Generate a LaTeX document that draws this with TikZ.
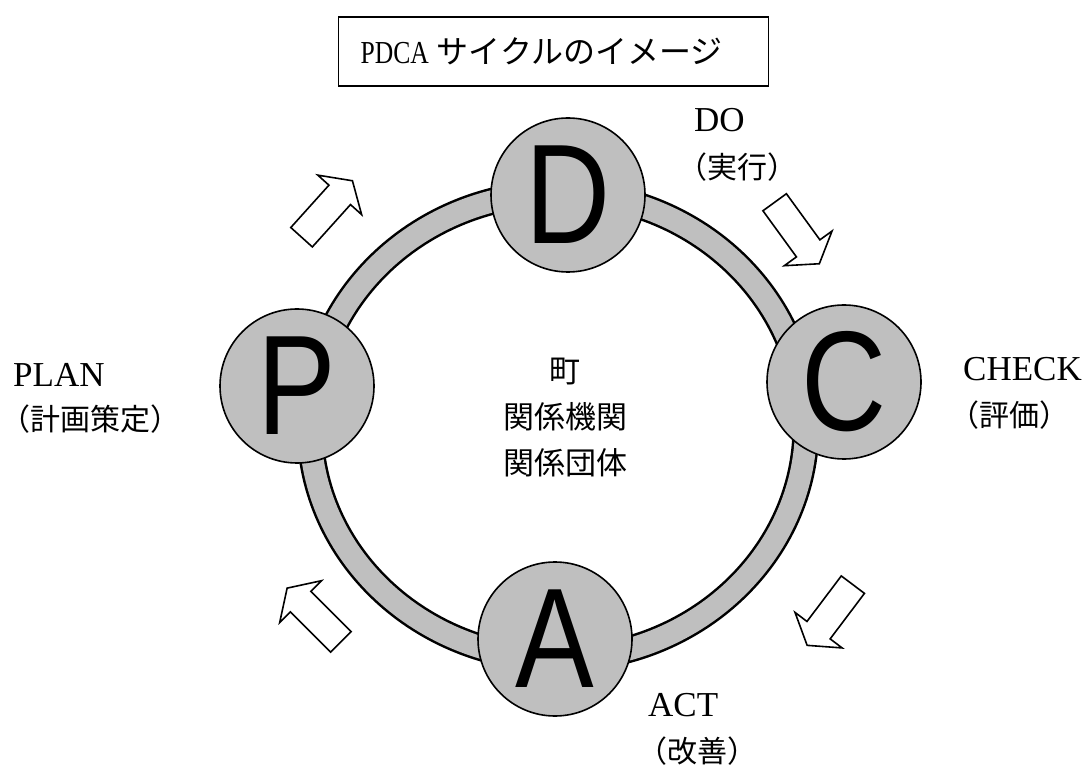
\documentclass[tikz,border=0pt]{standalone}
\usepackage{fontspec}
\setmainfont{Liberation Serif}
\newfontfamily\jpfont{Noto Sans CJK JP}
\newfontfamily\letterfont[FakeStretch=0.83]{Liberation Sans}
\newfontfamily\titlefont[FakeStretch=0.8]{Liberation Serif}
\usetikzlibrary{positioning}
\definecolor{RingClr}{rgb}{0.75,0.75,0.75}

\tikzset{
  stage/.style={circle,draw,line width=1.6pt,fill=RingClr,inner sep=0pt,
    minimum size=154pt,
    label={[font=\letterfont\fontsize{142}{142}\selectfont,inner sep=0pt]center:#1}},
  phase/.style={anchor=west,inner sep=0pt,font=\fontsize{35}{42}\selectfont},
  phasejp/.style={anchor=west,inner sep=0pt,font=\jpfont\fontsize{30}{36}\selectfont},
  pics/blockarrow/.style={code={
    \draw[line width=1.6pt,fill=white] (-38,-14.5) -- (19,-14.5) -- (19,-29.5) -- (38,0)
      -- (19,29.5) -- (19,14.5) -- (-38,14.5) -- cycle;}}
}

\begin{document}
\begin{tikzpicture}[x=1pt,y=1pt]
\useasboundingbox (0,0) rectangle (1086,769);

% title
\node[draw,line width=1.2pt,anchor=west,minimum width=430pt,minimum height=69pt,
  inner xsep=22pt,font=\fontsize{32}{38}\selectfont] (title) at (338,717.5)
  {\makebox[386pt][l]{{\titlefont PDCA} {\jpfont サイクルのイメージ}}};

% ring
\draw[line width=27pt] (558,343) ellipse [x radius=248,y radius=233];
\draw[RingClr,line width=22pt] (558,343) ellipse [x radius=248,y radius=233];

% stages
\node[stage=D] (D) at (568,574) {};
\node[stage=P] (P) at (297,383) {};
\node[stage=C] (C) at (844,387) {};
\node[stage=A] (A) at (555,130) {};

% arrows
\pic[rotate=48] at (327,560) {blockarrow};
\pic[rotate=-54] at (797,536) {blockarrow};
\pic[rotate=-127] at (830,154) {blockarrow};
\pic[rotate=135] at (314,154) {blockarrow};

% labels
\node[phase] (doLab) at (694,649) {DO};
\node[phasejp,below right=47pt and -17pt of doLab.west,anchor=west] (doJp) {（実行）};
\node[phase] (planLab) at (13,394) {PLAN};
\node[phasejp,below right=44pt and -13pt of planLab.west,anchor=west] (planJp) {（計画策定）};
\node[phase] (checkLab) at (963,400) {CHECK};
\node[phasejp,below right=46pt and -14pt of checkLab.west,anchor=west] (checkJp) {（評価）};
\node[phase] (actLab) at (648,64) {ACT};
\node[phasejp,below right=46pt and -11pt of actLab.west,anchor=west] (actJp) {（改善）};

\node[align=center,font=\jpfont\fontsize{31}{46}\selectfont] (org) at (565,351)
  {町\\関係機関\\関係団体};

\end{tikzpicture}
\end{document}
